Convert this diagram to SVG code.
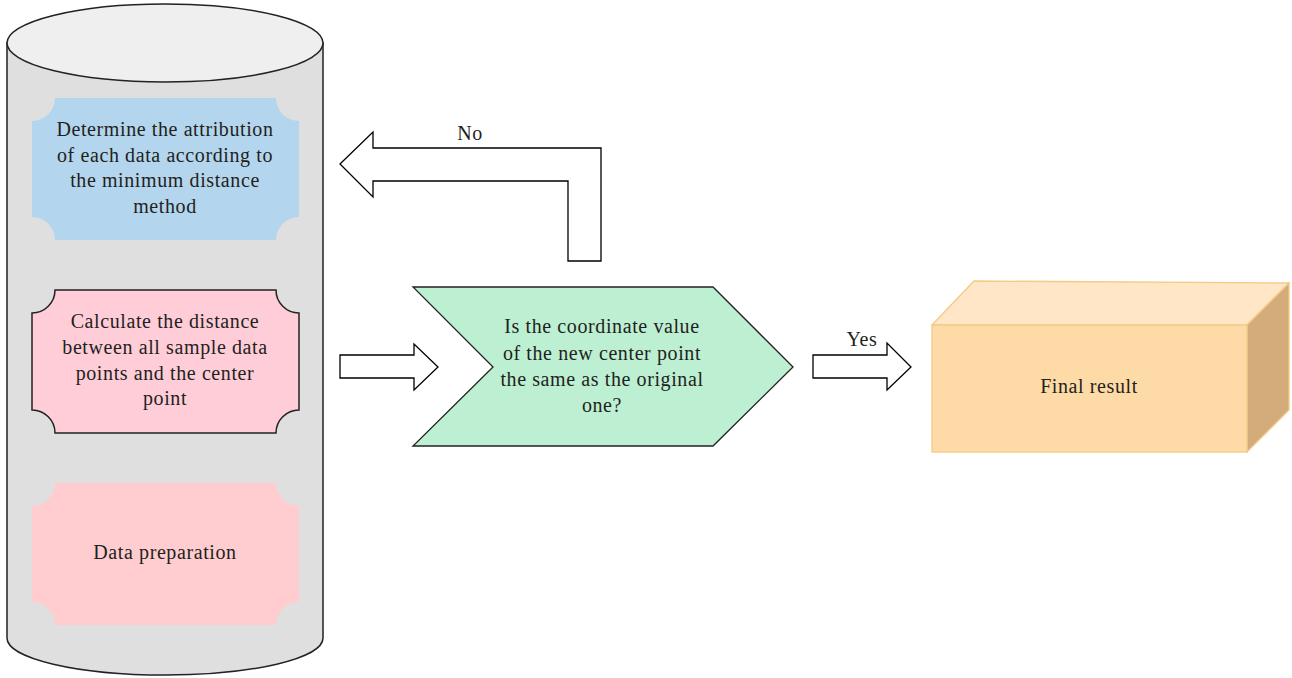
<svg xmlns="http://www.w3.org/2000/svg" width="1292" height="678" viewBox="0 0 1292 678">
<style>
text{font-family:"Liberation Serif","Times New Roman",serif;font-size:20px;letter-spacing:0.6px;fill:#231f20;text-anchor:middle}
.arr{fill:#fff;stroke:#000;stroke-width:1.3}
</style>
<rect width="1292" height="678" fill="#fff"/>
<g id="cylinder">
<path d="M7,43 L7,638 A158,37 0 0 0 323,638 L323,43 Z" fill="#e0dfe0" stroke="#222" stroke-width="1.5"/>
<ellipse cx="165" cy="43" rx="158" ry="39" fill="#efefef" stroke="#222" stroke-width="1.5"/>
</g>
<g id="node-determine">
<path d="M55,98 L276,98 A23,23 0 0 0 299,121 L299,217 A23,23 0 0 0 276,240 L55,240 A23,23 0 0 0 32,217 L32,121 A23,23 0 0 0 55,98 Z" fill="#b3d6ee"/>
<text x="165" y="136">Determine the attribution</text>
<text x="165" y="162">of each data according to</text>
<text x="165" y="187">the minimum distance</text>
<text x="165" y="213">method</text>
</g>
<g id="node-calculate">
<path d="M55,290 L276,290 A23,23 0 0 0 299,313 L299,410 A23,23 0 0 0 276,433 L55,433 A23,23 0 0 0 32,410 L32,313 A23,23 0 0 0 55,290 Z" fill="#ffcdd8" stroke="#222" stroke-width="1.5"/>
<text x="165" y="328">Calculate the distance</text>
<text x="165" y="354">between all sample data</text>
<text x="165" y="380">points and the center</text>
<text x="165" y="405">point</text>
</g>
<g id="node-prep">
<path d="M55,483 L276,483 A23,23 0 0 0 299,506 L299,602 A23,23 0 0 0 276,625 L55,625 A23,23 0 0 0 32,602 L32,506 A23,23 0 0 0 55,483 Z" fill="#ffcdcf"/>
<text x="165" y="559">Data preparation</text>
</g>
<g id="node-decision">
<polygon points="413,287 713,287 793,367 713,446 413,446 493,367" fill="#bdefd3" stroke="#222" stroke-width="1.3"/>
<text x="602" y="333">Is the coordinate value</text>
<text x="602" y="360">of the new center point</text>
<text x="602" y="386">the same as the original</text>
<text x="602" y="412">one?</text>
</g>
<g id="node-final">
<polygon points="932,325 974,281 1289,283 1247,325" fill="#fee6c6" stroke="#f2cb85" stroke-width="1.3"/>
<polygon points="1247,325 1289,283 1289,410 1247,452" fill="#d4ac7b" stroke="#f2cb85" stroke-width="1.3"/>
<rect x="932" y="325" width="315" height="127" fill="#fedba6" stroke="#f2cb85" stroke-width="1.3"/>
<text x="1089" y="393">Final result</text>
</g>
<g id="connectors">
<polygon class="arr" points="340,164 373,132 373,148 601,148 601,261 568,261 568,181 373,181 373,197"/>
<text x="470" y="140">No</text>
<polygon class="arr" points="340,355 414,355 414,344 438,367 414,390 414,378 340,378"/>
<polygon class="arr" points="813,355 887,355 887,343 911,367 887,390 887,378 813,378"/>
<text x="862" y="346">Yes</text>
</g>
</svg>
